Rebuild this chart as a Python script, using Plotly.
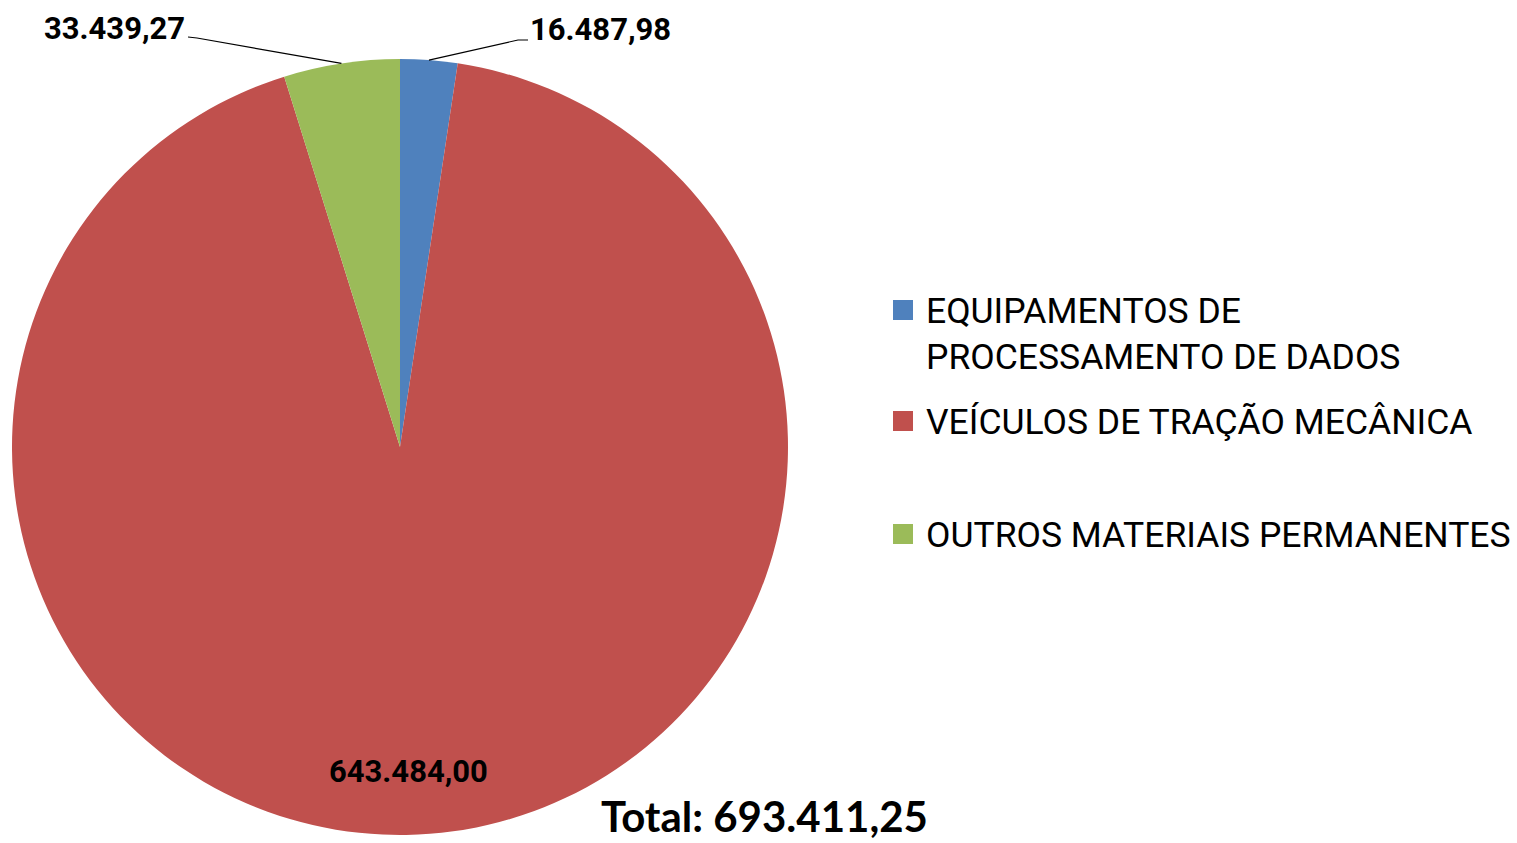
import math
import plotly.graph_objects as go

categories = ["EQUIPAMENTOS DE<br>PROCESSAMENTO DE DADOS",
              "VEÍCULOS DE TRAÇÃO MECÂNICA",
              "OUTROS MATERIAIS PERMANENTES"]
values = [16487.98, 643484.00, 33439.27]
value_labels = ["16.487,98", "643.484,00", "33.439,27"]
colors = ["#4F81BD", "#C0504D", "#9BBB59"]
total_label = "Total: 693.411,25"

W, H = 1517, 843
cx, cy, R = 400, 447, 388

def px(x):
    return x / W

def py(y):
    return 1 - y / H

fig = go.Figure(go.Pie(
    labels=[c.replace("<br>", " ") for c in categories],
    values=values,
    sort=False,
    direction="clockwise",
    rotation=0,
    marker=dict(colors=colors, line=dict(width=0)),
    textinfo="none",
    hoverinfo="label+value",
    showlegend=False,
    domain=dict(x=[px(cx - R), px(cx + R)], y=[py(cy + R), py(cy - R)]),
))

# slice mid angles (clockwise from top)
tot = sum(values)
mids = []
acc = 0
for v in values:
    mids.append((acc + v / 2) / tot * 2 * math.pi)
    acc += v

def edge(a, f=1.0):
    return cx + f * R * math.sin(a), cy - f * R * math.cos(a)

label_font = dict(family="Roboto, Lato, sans-serif", size=31, color="#000000")
annotations = []
shapes = []

# blue (outside, right)
ex, ey = edge(mids[0])
elbow_b = (518, 40)
shapes.append(dict(type="path", xref="paper", yref="paper",
                   path=f"M {px(ex)},{py(ey)} L {px(elbow_b[0])},{py(elbow_b[1])} L {px(elbow_b[0]+10)},{py(elbow_b[1])}",
                   line=dict(color="#000000", width=1.2)))
annotations.append(dict(x=px(elbow_b[0] + 10), y=py(29), xref="paper", yref="paper",
                        xanchor="left", yanchor="middle", showarrow=False,
                        text=f"<b>{value_labels[0]}</b>", font=label_font))

# green (outside, left)
gx, gy = edge(mids[2])
elbow_g = (197, 38)
shapes.append(dict(type="path", xref="paper", yref="paper",
                   path=f"M {px(gx)},{py(gy)} L {px(elbow_g[0])},{py(elbow_g[1])} L {px(elbow_g[0]-9)},{py(elbow_g[1]-1)}",
                   line=dict(color="#000000", width=1.2)))
annotations.append(dict(x=px(elbow_g[0] - 10), y=py(28), xref="paper", yref="paper",
                        xanchor="right", yanchor="middle", showarrow=False,
                        text=f"<b>{value_labels[2]}</b>", font=label_font))

# red (inside, near the bottom of the slice)
annotations.append(dict(x=px(409), y=py(771), xref="paper", yref="paper",
                        xanchor="center", yanchor="middle", showarrow=False,
                        text=f"<b>{value_labels[1]}</b>", font=label_font))

# total
annotations.append(dict(x=px(764), y=0, xref="paper", yref="paper",
                        xanchor="center", yanchor="bottom", showarrow=False,
                        text=f"<b>{total_label}</b>",
                        font=dict(family="Lato, sans-serif", size=42, color="#000000")))

# legend (built from categories / colors)
legend_y = [310, 421, 534]
legend_font = dict(family="Roboto, sans-serif", size=35.5, color="#000000")
for cat, col, ly in zip(categories, colors, legend_y):
    shapes.append(dict(type="rect", xref="paper", yref="paper",
                       x0=px(893), x1=px(913), y0=py(ly + 10), y1=py(ly - 10),
                       fillcolor=col, line=dict(width=0)))
    annotations.append(dict(x=px(924), y=py(ly - 22), xref="paper", yref="paper",
                            xanchor="left", yanchor="top", align="left", showarrow=False,
                            text=cat, font=legend_font))

fig.update_layout(
    width=W, height=H, autosize=False,
    margin=dict(l=0, r=0, t=0, b=0),
    paper_bgcolor="#FFFFFF",
    plot_bgcolor="#FFFFFF",
    showlegend=False,
    annotations=annotations,
    shapes=shapes,
)

fig.write_html("out.html", config={"displayModeBar": False},
               post_script="document.body.style.margin='0px';document.body.style.overflow='hidden';")
